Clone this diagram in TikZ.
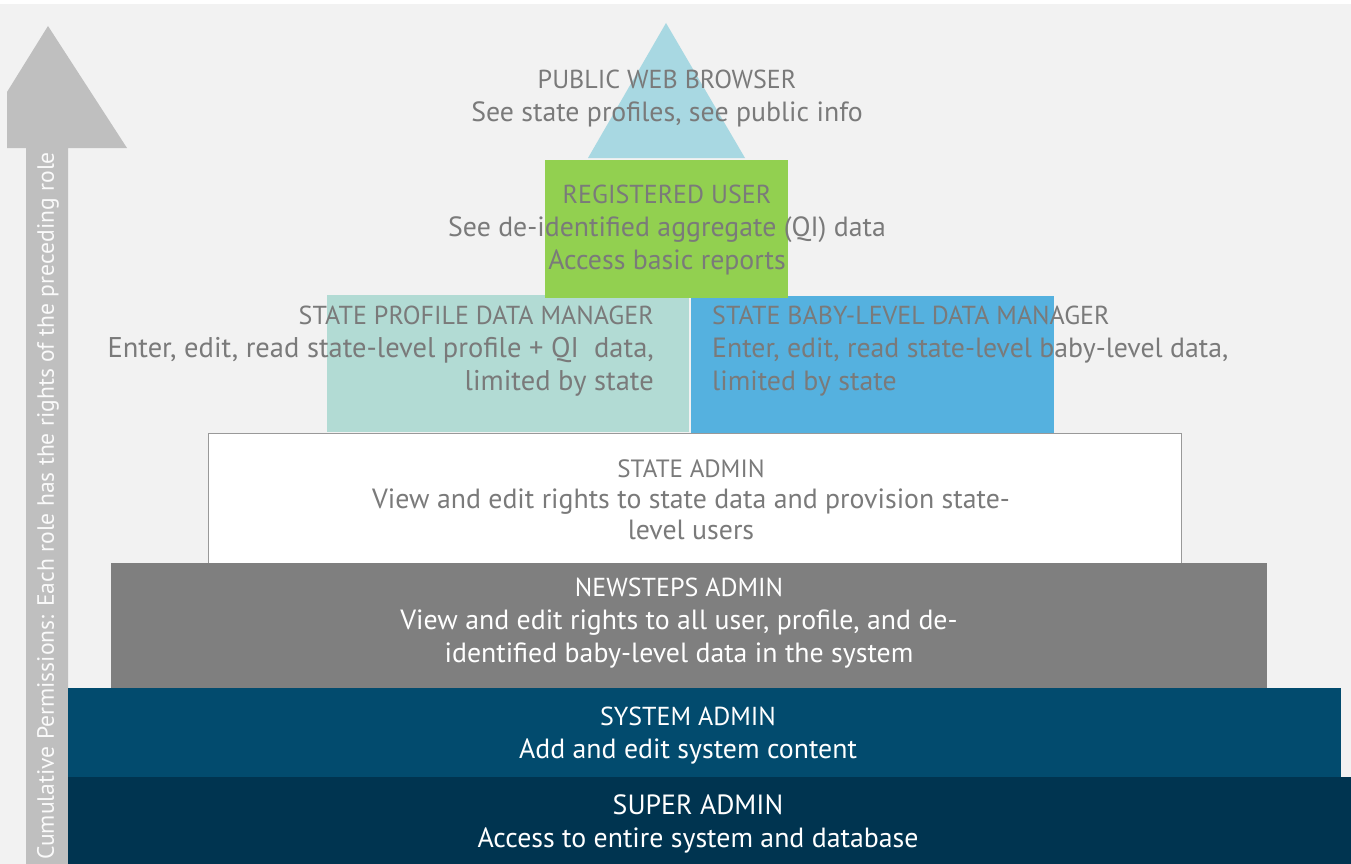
\documentclass[tikz,border=0pt]{standalone}
\usepackage{fontspec}
\setmainfont{PT Sans}
\definecolor{bg}{HTML}{F2F2F2}
\definecolor{arrowgray}{HTML}{BFBFBF}
\definecolor{triblue}{HTML}{A8D8E2}
\definecolor{regreen}{HTML}{92D050}
\definecolor{teal}{HTML}{B2DBD4}
\definecolor{skyblue}{HTML}{55B1DF}
\definecolor{midgray}{HTML}{7F7F7F}
\definecolor{sysblue}{HTML}{024B6E}
\definecolor{superblue}{HTML}{003450}
\definecolor{txtgray}{HTML}{7A7A7A}
\newcommand{\ttl}[1]{{\fontsize{26}{33}\selectfont #1}}
\begin{document}
\begin{tikzpicture}[x=1pt,y=-1pt,
  box/.style={anchor=north west,inner sep=0pt,outer sep=0pt,draw=none},
  lbl/.style={inner sep=0pt,font=\fontsize{27.8}{33}\selectfont,text=txtgray},
  wlbl/.style={lbl,text=white}]
\useasboundingbox (0,0) rectangle (1351,864);
\fill[bg] (0,0) rectangle (1351,864);
\fill[white] (0,0) rectangle (1351,4);
% cumulative arrow
\fill[arrowgray] (26,864) -- (26,148) -- (7,148) -- (7,92) -- (48,26) -- (127,148) -- (68,148) -- (68,864) -- cycle;
\node[rotate=90,inner sep=0pt,text=white!92!arrowgray,font=\fontsize{23.6}{26}\selectfont] (cum) at (48,506) {Cumulative Permissions: Each role has the rights of the preceding role};
% public web browser triangle
\fill[triblue] (588,158) -- (666,23) -- (745,158) -- cycle;
\coordinate (tri) at (666,100);
% boxes
\node[box,fill=teal,minimum width=362pt,minimum height=137pt] (spdm) at (327,295) {};
\node[box,fill=skyblue,minimum width=363pt,minimum height=137pt] (sbdm) at (691,296) {};
\node[box,fill=regreen,minimum width=243pt,minimum height=138pt] (reg) at (545,160) {};
\node[box,fill=white,draw=black!40,line width=0.8pt,minimum width=973pt,minimum height=130pt] (sa) at (208,433) {};
\node[box,fill=midgray,minimum width=1156pt,minimum height=125pt] (nsa) at (111,563) {};
\node[box,fill=sysblue,minimum width=1273pt,minimum height=89pt] (sys) at (68,688) {};
\node[box,fill=superblue,minimum width=1283pt,minimum height=87pt] (sup) at (68,777) {};
% labels
\node[lbl,align=center] (pubT) at (667,99) {\ttl{PUBLIC WEB BROWSER}\\See state profiles, see public info};
\node[lbl,align=center] (regT) at (667,230) {\ttl{REGISTERED USER}\\See de-identified aggregate (QI) data\\Access basic reports};
\node[lbl,align=right,anchor=east,font=\fontsize{28.5}{33}\selectfont] (spdmT) at (654,351) {\ttl{STATE PROFILE DATA MANAGER}\\Enter, edit, read state-level profile + QI\ \ data,\\limited by state};
\node[lbl,align=left,anchor=west] (sbdmT) at (712,351) {\ttl{STATE BABY-LEVEL DATA MANAGER}\\Enter, edit, read state-level baby-level data,\\limited by state};
\node[lbl,align=center,font=\fontsize{27.8}{31}\selectfont] (saT) at (691,500) {{\fontsize{25}{31}\selectfont STATE ADMIN}\\View and edit rights to state data and provision state-\\level users};
\node[wlbl,align=center] (nsaT) at (679,623) {\ttl{NEWSTEPS ADMIN}\\View and edit rights to all user, profile, and de-\\identified baby-level data in the system};
\node[wlbl,align=center] (sysT) at (688,736) {\ttl{SYSTEM ADMIN}\\Add and edit system content};
\node[wlbl,align=center] (supT) at (698,824) {SUPER ADMIN\\Access to entire system and database};
\end{tikzpicture}
\end{document}
